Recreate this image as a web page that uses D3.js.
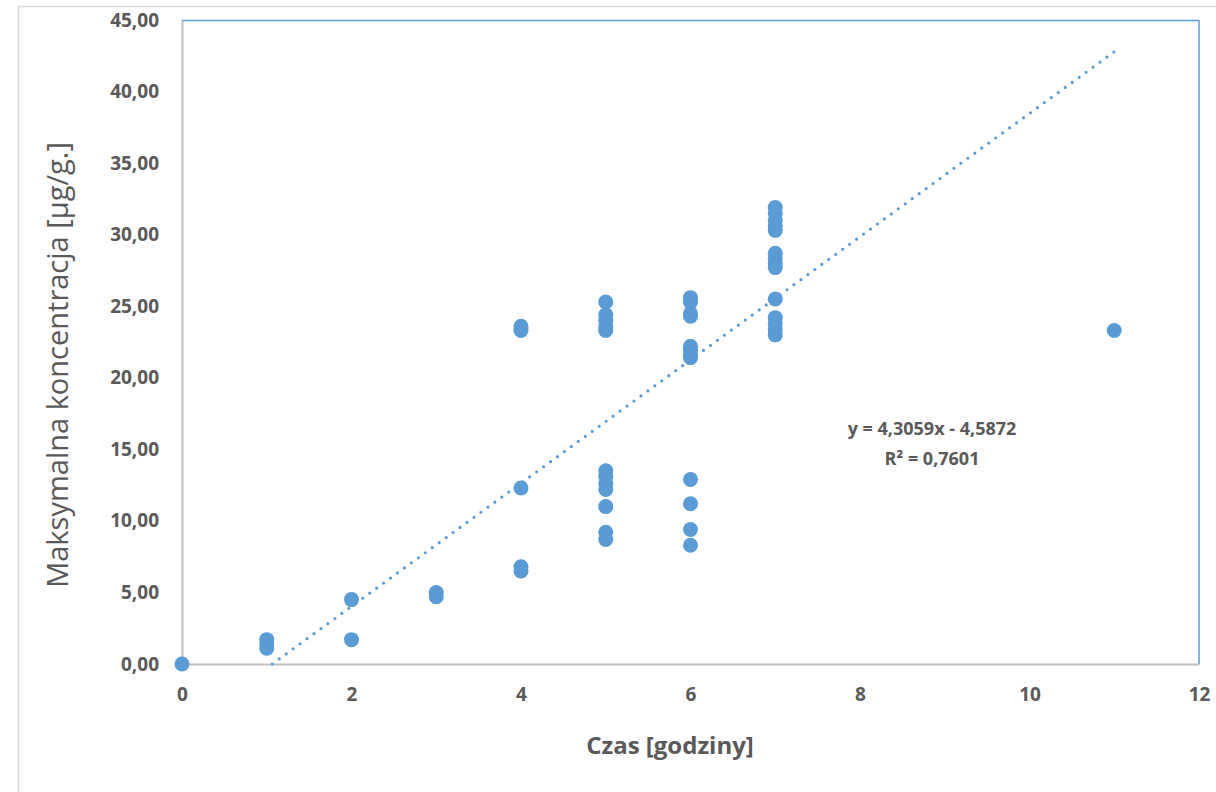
<!DOCTYPE html>
<html><head><meta charset="utf-8">
<script src="https://cdn.jsdelivr.net/npm/d3@7"></script>
<style>body{margin:0;background:#fff}</style>
</head><body>
<svg id="c" width="1216" height="792"></svg>
<script>
const xs = [0, 1,1,1, 2,2, 3,3, 4,4,4,4,4,
  5,5,5,5,5, 5,5,5,5, 5, 5,5,
  6,6,6,6, 6,6,6,6, 6,6,6,6,
  7,7,7,7,7, 7,7,7,7, 7, 7,7,7,7, 11];
const ys = [0, 1.7,1.4,1.1, 4.5,1.7, 5.0,4.7, 23.6,23.3,12.3,6.8,6.5,
  25.3,24.4,24.0,23.6,23.3, 13.5,13.1,12.6,12.2, 11.0, 9.2,8.7,
  25.6,25.3,24.5,24.3, 22.2,21.9,21.6,21.4, 12.9,11.2,9.4,8.3,
  31.9,31.5,31.0,30.6,30.3, 28.7,28.3,28.0,27.7, 25.5, 24.2,23.8,23.4,23.0, 23.3];
const xTicks = [0,2,4,6,8,10,12];
const yTicks = [0,5,10,15,20,25,30,35,40,45];
const slope = 4.3059, intercept = -4.5872;
const eqLines = ["y = 4,3059x - 4,5872", "R² = 0,7601"];
const xTitle = "Czas [godziny]";
const yTitle = "Maksymalna koncentracja [µg/g.]";

const svg = d3.select("#c");
const L=182, R=1199, T=20, B=664;
const x = d3.scaleLinear().domain([0,12]).range([L,R]);
const y = d3.scaleLinear().domain([0,45]).range([B,T]);
const font = "'Open Sans', sans-serif";
const txt = "#595959", blue = "#5b9bd5", grid="#bfbfbf";

svg.append("rect").attr("x",18.5).attr("y",6.5).attr("width",1300).attr("height",900)
  .attr("fill","none").attr("stroke","#d9d9d9").attr("stroke-width",1.5);

// plot border top/right
svg.append("path").attr("d",`M${L},${T+0.5}H${R}V${B}`).attr("fill","none").attr("stroke",blue).attr("stroke-width",1.5);

// axes
const xa = svg.append("g").attr("transform",`translate(0,${B})`)
  .call(d3.axisBottom(x).tickValues(xTicks).tickSize(0).tickPadding(24).tickFormat(d3.format("d")));
const ya = svg.append("g").attr("transform",`translate(${L},0)`)
  .call(d3.axisLeft(y).tickValues(yTicks).tickSize(0).tickPadding(23).tickFormat(d=>d3.format(".2f")(d).replace(".",",")));
[xa,ya].forEach(a=>{
  a.select(".domain").attr("stroke",grid).attr("stroke-width",2);
  a.selectAll("text").attr("fill",txt).attr("font-family",font).attr("font-weight",700).attr("font-size",19);
});

// trendline
const x0 = -intercept/slope;
svg.append("line").attr("x1",x(x0)).attr("y1",y(slope*x0+intercept))
  .attr("x2",x(11)).attr("y2",y(slope*11+intercept))
  .attr("stroke",blue).attr("stroke-width",3.2).attr("stroke-linecap","round")
  .attr("stroke-dasharray","0 8.6");

// points
svg.append("g").selectAll("circle").data(xs.map((d,i)=>[d,ys[i]])).join("circle")
  .attr("cx",d=>x(d[0])).attr("cy",d=>y(d[1])).attr("r",7.5).attr("fill",blue);

// equation
svg.append("text").attr("x",932).attr("y",0).attr("font-family",font).attr("font-weight",700)
  .attr("font-size",18).attr("fill",txt).attr("text-anchor","middle")
  .selectAll("tspan").data(eqLines).join("tspan").attr("x",932).attr("y",(d,i)=>435+i*30).text(d=>d);

// titles
svg.append("text").attr("x",670).attr("y",754).attr("text-anchor","middle")
  .attr("font-family",font).attr("font-weight",700).attr("font-size",24).attr("fill",txt).text(xTitle);
svg.append("text").attr("transform","translate(68,365) rotate(-90)").attr("text-anchor","middle")
  .attr("font-family",font).attr("font-size",29).attr("fill",txt).text(yTitle);
</script>
</body></html>
